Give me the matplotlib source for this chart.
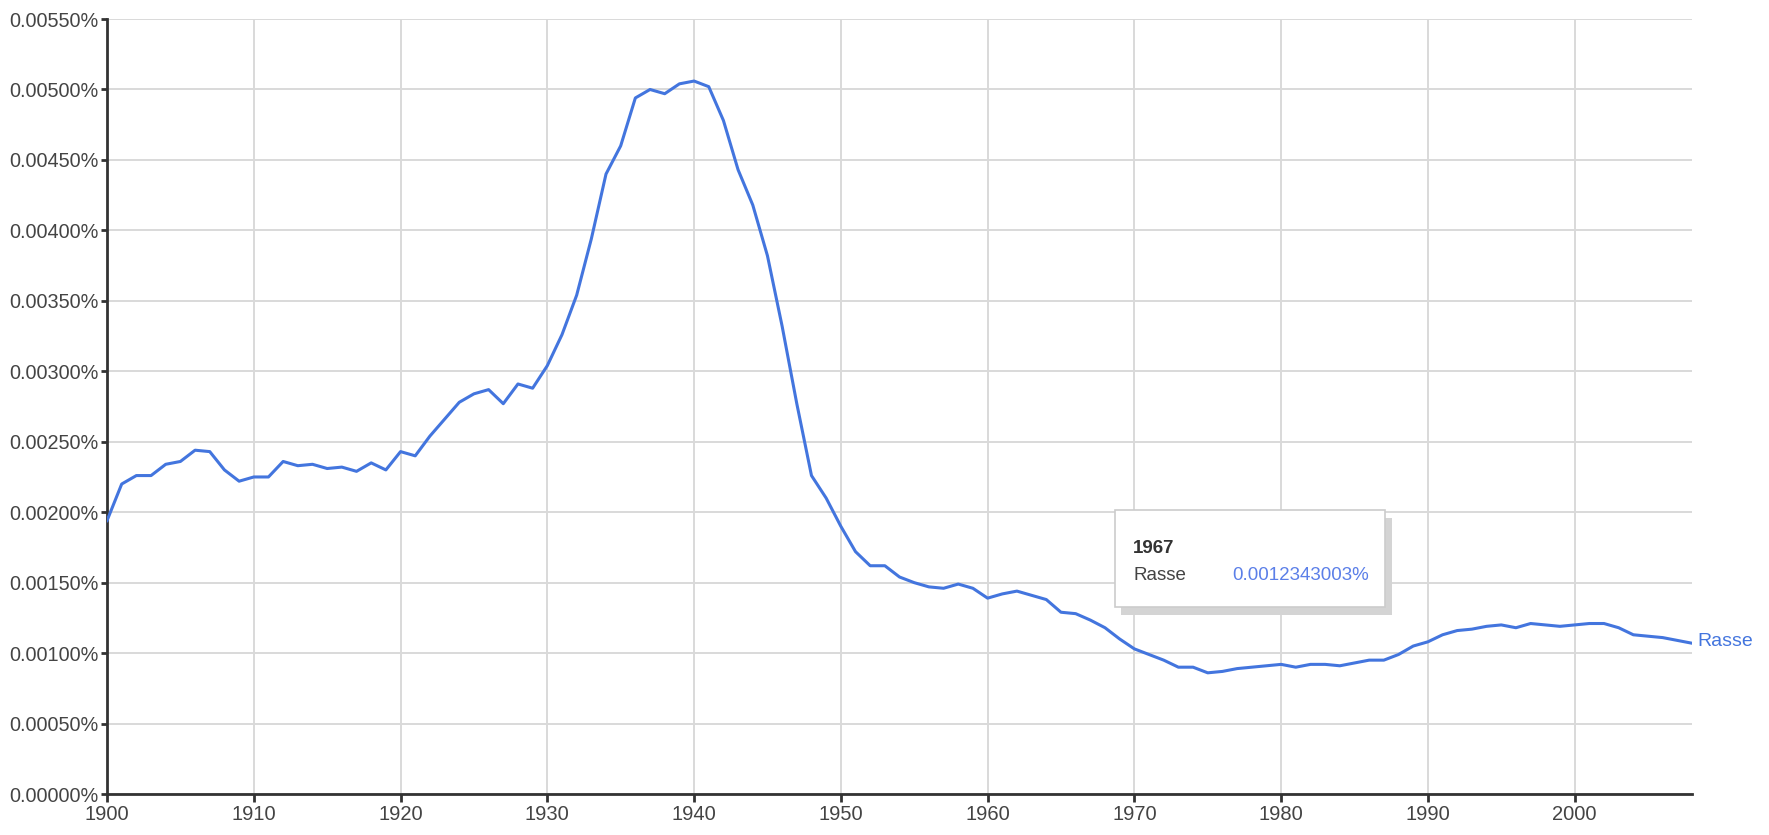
import matplotlib
matplotlib.use("Agg")
import matplotlib.pyplot as plt
from matplotlib.patches import Rectangle
from matplotlib.ticker import FixedLocator, FuncFormatter

plt.rcParams['font.family'] = ['Liberation Sans', 'DejaVu Sans']

# Google Ngram: "Rasse", relative frequency in percent
years = list(range(1900, 2009))
rasse = [
    0.00194, 0.00220, 0.00226, 0.00226, 0.00234, 0.00236, 0.00244, 0.00243, 0.00230, 0.00222,  # 1900-1909
    0.00225, 0.00225, 0.00236, 0.00233, 0.00234, 0.00231, 0.00232, 0.00229, 0.00235, 0.00230,  # 1910-1919
    0.00243, 0.00240, 0.00254, 0.00266, 0.00278, 0.00284, 0.00287, 0.00277, 0.00291, 0.00288,  # 1920-1929
    0.00304, 0.00326, 0.00354, 0.00394, 0.00440, 0.00460, 0.00494, 0.00500, 0.00497, 0.00504,  # 1930-1939
    0.00506, 0.00502, 0.00478, 0.00443, 0.00418, 0.00382, 0.00332, 0.00277, 0.00226, 0.00210,  # 1940-1949
    0.00190, 0.00172, 0.00162, 0.00162, 0.00154, 0.00150, 0.00147, 0.00146, 0.00149, 0.00146,  # 1950-1959
    0.00139, 0.00142, 0.00144, 0.00141, 0.00138, 0.00129, 0.00128, 0.0012343, 0.00118, 0.00110,  # 1960-1969
    0.00103, 0.00099, 0.00095, 0.00090, 0.00090, 0.00086, 0.00087, 0.00089, 0.00090, 0.00091,  # 1970-1979
    0.00092, 0.00090, 0.00092, 0.00092, 0.00091, 0.00093, 0.00095, 0.00095, 0.00099, 0.00105,  # 1980-1989
    0.00108, 0.00113, 0.00116, 0.00117, 0.00119, 0.00120, 0.00118, 0.00121, 0.00120, 0.00119,  # 1990-1999
    0.00120, 0.00121, 0.00121, 0.00118, 0.00113, 0.00112, 0.00111, 0.00109, 0.00107,            # 2000-2008
]
series_label = "Rasse"

y_ticks = [i * 0.0005 for i in range(12)]
x_ticks = list(range(1900, 2001, 10))

tooltip_year = "1967"
tooltip_value = "0.0012343003%"

LINE_BLUE = "#4375de"
TEXT_GREY = "#444444"

fig = plt.figure(figsize=(17.69, 8.35), dpi=100)
ax = fig.add_axes([0.0605, 0.0491, 0.896, 0.9281])

ax.plot(years, rasse, color=LINE_BLUE, linewidth=2.2, solid_joinstyle='round', zorder=3)

ax.set_xlim(1900, 2008)
ax.set_ylim(0, 0.0055)
ax.xaxis.set_major_locator(FixedLocator(x_ticks))
ax.yaxis.set_major_locator(FixedLocator(y_ticks))
ax.yaxis.set_major_formatter(FuncFormatter(lambda v, p: f"{v:.5f}%"))

ax.grid(True, color="#d9d9d9", linewidth=1.4, zorder=0)
ax.set_axisbelow(True)

for side in ("top", "right"):
    ax.spines[side].set_visible(False)
for side in ("left", "bottom"):
    ax.spines[side].set_color("#333333")
    ax.spines[side].set_linewidth(2.0)

ax.tick_params(axis="y", direction="out", length=4, width=2, color="#333333",
               labelsize=14.3, labelcolor=TEXT_GREY, pad=2)
ax.tick_params(axis="x", direction="out", length=6, width=2, color="#333333",
               labelsize=14.5, labelcolor=TEXT_GREY, pad=2)

# series label at the right end of the line
ax.annotate(series_label, xy=(years[-1], rasse[-1]), xytext=(4, 1),
            textcoords="offset points", va="center", ha="left",
            color=LINE_BLUE, fontsize=14, annotation_clip=False)

# hover tooltip box
shadow = Rectangle((0.6397, 0.231), 0.171, 0.125, transform=ax.transAxes,
                   facecolor="#d4d4d4", edgecolor="none", zorder=5)
box = Rectangle((0.636, 0.241), 0.170, 0.125, transform=ax.transAxes,
                facecolor="white", edgecolor="#cccccc", linewidth=1.2, zorder=6)
ax.add_patch(shadow)
ax.add_patch(box)
ax.text(0.6473, 0.311, tooltip_year, transform=ax.transAxes, fontsize=13.5,
        fontweight="bold", color="#333333", va="baseline", zorder=7)
ax.text(0.6473, 0.276, series_label, transform=ax.transAxes, fontsize=13.5,
        color=TEXT_GREY, va="baseline", zorder=7)
ax.text(0.7098, 0.276, tooltip_value, transform=ax.transAxes, fontsize=13.5,
        color="#5b7fe8", va="baseline", zorder=7)

fig.savefig("out.png", dpi=100)
